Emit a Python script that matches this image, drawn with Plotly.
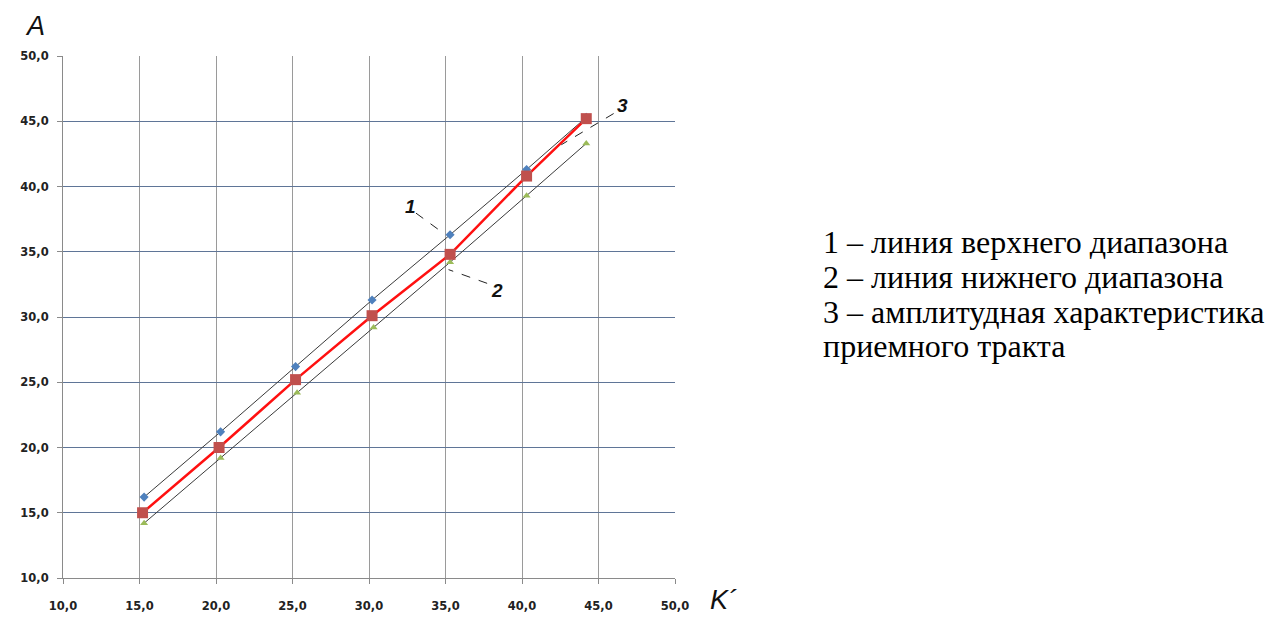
import plotly.graph_objects as go

# ---- data ----
k_upper = [15.3, 20.3, 25.2, 30.2, 35.3, 40.3, 44.2]
a_upper = [16.2, 21.2, 26.2, 31.3, 36.3, 41.3, 45.3]

k_lower = [15.3, 20.3, 25.3, 30.3, 35.3, 40.3, 44.2]
a_lower = [14.2, 19.2, 24.2, 29.2, 34.2, 39.3, 43.3]

k_resp = [15.2, 20.2, 25.2, 30.2, 35.3, 40.3, 44.2]
a_resp = [15.0, 20.0, 25.2, 30.1, 34.8, 40.8, 45.2]

tick_vals = [10, 15, 20, 25, 30, 35, 40, 45, 50]
tick_text = ["10,0", "15,0", "20,0", "25,0", "30,0", "35,0", "40,0", "45,0", "50,0"]

legend_lines = [
    "1 – линия верхнего диапазона",
    "2 – линия нижнего диапазона",
    "3 – амплитудная характеристика",
    "приемного тракта",
]

# plot area in screen pixels (page body has an 8px margin)
PX_L, PX_R, PX_T, PX_B = 56, 675, 56, 591
PW, PH = PX_R - PX_L, PX_B - PX_T


def px(xs, ys):
    return (xs - PX_L) / PW, (PX_B - ys) / PH


fig = go.Figure()

fig.add_trace(go.Scatter(
    x=k_upper, y=a_upper, mode="lines+markers",
    line=dict(color="#3a3a3a", width=1),
    marker=dict(symbol="diamond", size=7, color="#4F81BD"),
    showlegend=False))
fig.add_trace(go.Scatter(
    x=k_lower, y=a_lower, mode="lines+markers",
    line=dict(color="#3a3a3a", width=1),
    marker=dict(symbol="triangle-up", size=7, color="#9BBB59"),
    showlegend=False))
fig.add_trace(go.Scatter(
    x=k_resp, y=a_resp, mode="lines+markers",
    line=dict(color="#FF1010", width=2.5),
    marker=dict(symbol="square", size=11, color="#C0504D"),
    showlegend=False))

# leader lines for curve labels
leaders = [
    (33.07, 37.96, 34.81, 36.47),
    (37.72, 32.58, 35.2, 33.63),
    (45.99, 45.59, 42.57, 43.2),
]
for x0, y0, x1, y1 in leaders:
    fig.add_shape(type="line", xref="x", yref="y", x0=x0, y0=y0, x1=x1, y1=y1,
                  line=dict(color="#222222", width=1, dash="dash"))

labels = [("1", 32.68, 38.49), ("2", 38.37, 32.06), ("3", 46.58, 46.19)]
for t, x, y in labels:
    fig.add_annotation(x=x, y=y, xref="x", yref="y", text="<b><i>" + t + "</i></b>",
                       showarrow=False, xanchor="center", yanchor="middle",
                       font=dict(family="Liberation Sans, Arial", size=19, color="#111"))

# axis titles
ax_, ay_ = px(28, 25)
fig.add_annotation(x=ax_, y=ay_, xref="paper", yref="paper", text="<i>A</i>",
                   showarrow=False, xanchor="center", yanchor="middle",
                   font=dict(family="Liberation Sans, Arial", size=27, color="#111"))
kx_, ky_ = px(724, 614)
fig.add_annotation(x=kx_, y=ky_, xref="paper", yref="paper", text="<i>K´</i>",
                   showarrow=False, xanchor="center", yanchor="middle",
                   font=dict(family="Liberation Sans, Arial", size=27, color="#111"))

# right-side description
row_px = [247, 283, 318, 353]
for line, ypx in zip(legend_lines, row_px):
    lx, ly = px(823, ypx)
    fig.add_annotation(x=lx, y=ly, xref="paper", yref="paper",
                       text=line, xanchor="left", yanchor="middle", showarrow=False,
                       font=dict(family="Liberation Serif, Times New Roman", size=32, color="#000"))

bold_text = ["<b>" + t + "</b>" for t in tick_text]
axis_common = dict(
    range=[10, 50], tickvals=tick_vals, ticktext=bold_text,
    ticks="outside", ticklen=5, tickcolor="#8a8a8a",
    showline=True, linecolor="#8a8a8a", linewidth=1,
    zeroline=False,
    tickfont=dict(family="DejaVu Sans, Verdana", size=11.5, color="#222"),
)

fig.update_xaxes(**axis_common, gridcolor="#9a9a9a", gridwidth=1, ticklabelstandoff=12)
fig.update_yaxes(**axis_common, gridcolor="#5f7597", gridwidth=1, ticklabelstandoff=6)

W, H = 1265, 617
fig.update_layout(
    width=W, height=H,
    margin=dict(l=PX_L - 8, r=W - (PX_R - 8), t=PX_T - 8, b=H - (PX_B - 8)),
    plot_bgcolor="white", paper_bgcolor="white",
    font=dict(family="Liberation Sans, Arial"),
)

fig.write_html("out.html")
